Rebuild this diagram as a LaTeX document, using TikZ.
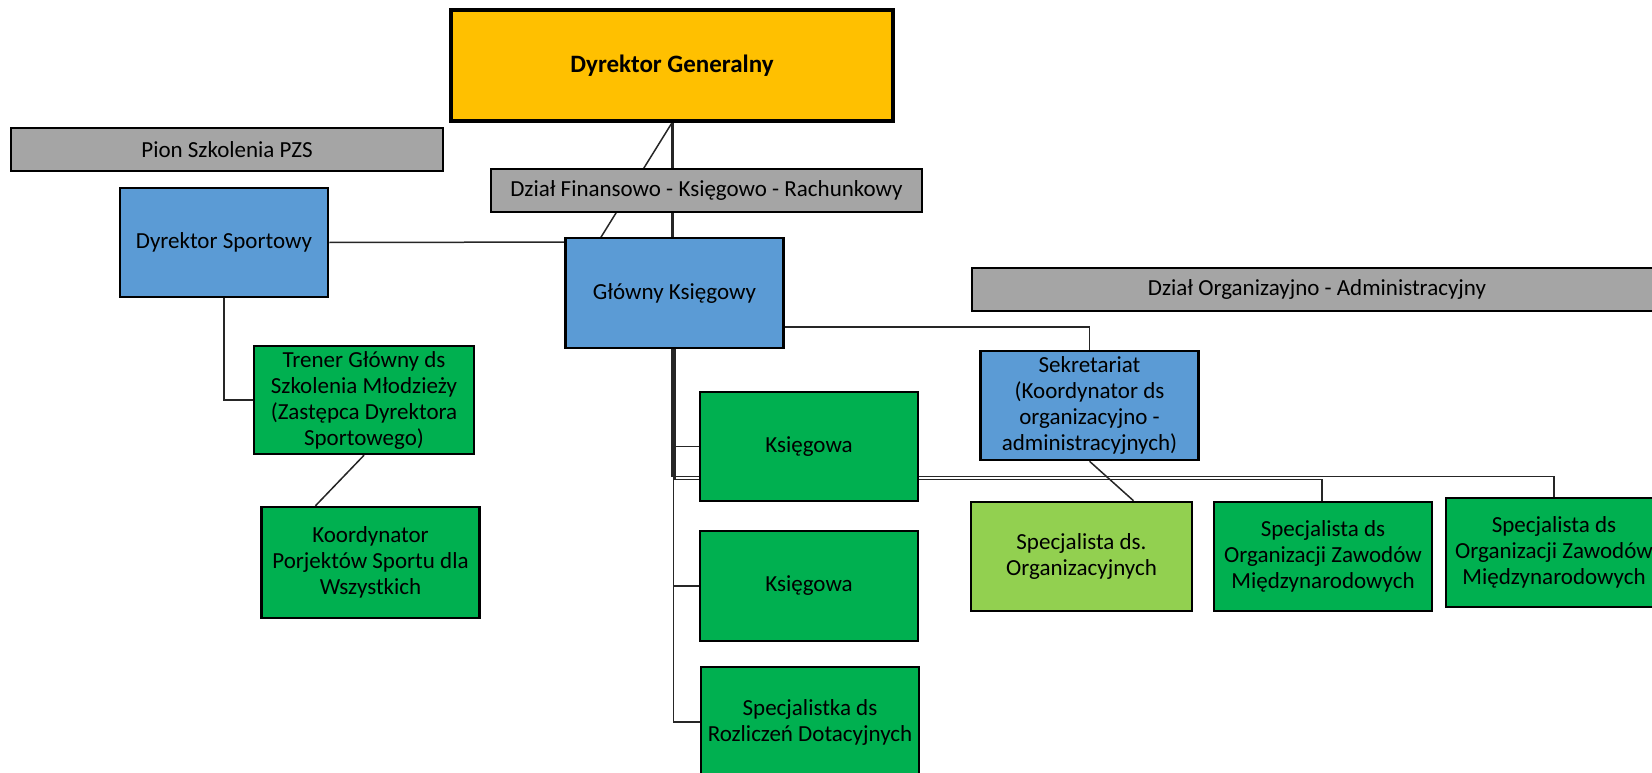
\documentclass[tikz,border=0pt]{standalone}
\usepackage{fontspec}
\setmainfont{Carlito}
\usetikzlibrary{backgrounds}
\definecolor{dgyellow}{HTML}{FFC000}
\definecolor{orgblue}{HTML}{5B9BD5}
\definecolor{orggreen}{HTML}{00B050}
\definecolor{orglime}{HTML}{92D050}
\definecolor{orggray}{HTML}{A5A5A5}
\begin{document}
\begin{tikzpicture}[x=1pt,y=-1pt,
  postbox/.style={draw=black,line width=2.5pt,align=center,inner sep=0pt,
    minimum width=218pt,minimum height=109pt,font=\fontsize{23}{26}\selectfont},
  bluebox/.style={postbox,fill=orgblue},
  greenbox/.style={postbox,fill=orggreen},
  barbox/.style={postbox,fill=orggray,line width=2pt,minimum height=43pt},
  link/.style={draw=black!85,line width=1.5pt}]
% page frame
\useasboundingbox (0,0) rectangle (1652,773);
\clip (0,0) rectangle (1652,773);
% the top
\node[postbox,fill=dgyellow,line width=3.5pt,minimum width=442pt,minimum height=111pt,
  font=\fontsize{25}{29}\selectfont\bfseries] (dg) at (672,65.5) {Dyrektor Generalny};
% the grey department bars
\node[barbox,minimum width=432pt] (pion) at (227,149.5) {Pion Szkolenia PZS};
\node[barbox,minimum width=431pt] (dzfin) at (706.5,190.5) {Dział Finansowo - Księgowo - Rachunkowy};
\node[barbox,minimum width=690pt] (dzorg) at (1317,289.5) {Dział Organizayjno - Administracyjny};
% left branch
\node[bluebox,minimum width=208pt] (dsport) at (224,242.5) {Dyrektor Sportowy};
\node[greenbox,minimum width=220pt,minimum height=108pt] (trener) at (364,400)
  {Trener Główny ds\\Szkolenia Młodzieży\\(Zastępca Dyrektora\\Sportowego)};
\node[greenbox,minimum height=111pt] (koord) at (370.5,562.5)
  {Koordynator\\Porjektów Sportu dla\\Wszystkich};
% finance branch
\node[bluebox,minimum height=110pt] (gk) at (674.5,293) {Główny Księgowy};
\node[greenbox] (ksieg1) at (809,446.5) {Księgowa};
\node[greenbox,minimum height=110pt] (ksieg2) at (809,586) {Księgowa};
\node[greenbox,minimum height=110pt] (spec) at (810,722) {Specjalistka ds\\Rozliczeń Dotacyjnych};
% organisation branch
\node[bluebox] (sekr) at (1089.5,405.5)
  {Sekretariat\\(Koordynator ds\\organizacyjno -\\administracyjnych)};
\node[postbox,fill=orglime,minimum width=221pt] (sporg) at (1081.5,556.5)
  {Specjalista ds.\\Organizacyjnych};
\node[greenbox] (zaw1) at (1323,556.5)
  {Specjalista ds\\Organizacji Zawodów\\Międzynarodowych};
\node[greenbox,minimum width=216pt] (zaw2) at (1554,552.5)
  {Specjalista ds\\Organizacji Zawodów\\Międzynarodowych};
% connectors behind the boxes
\begin{pgfonlayer}{background}
\draw[link,line width=3pt] (dg.south) -- (dg.south |- gk.north);
\draw[link] (dsport.east) -- (598,242) -- (dg.south);
\draw[link] (dsport.south) |- (trener.west);
\draw[link] (trener.south) -- ([xshift=-55pt]koord.north);
\draw[link] ([yshift=-34pt]gk.east) -| (sekr.north);
\draw[link] (sekr.south) -- ([xshift=52pt]sporg.north);
\draw[link] ([xshift=-1pt]gk.south) |- (ksieg1.west);
\draw[link] ([xshift=-1pt]gk.south) |- (ksieg2.west);
\draw[link] ([xshift=-1pt]gk.south) |- (spec.west);
\draw[link] ([xshift=-2.5pt]gk.south) -- ++(0,127) -| (zaw2.north);
\draw[link] ([xshift=0.5pt]gk.south) -- ++(0,130) -| ([xshift=-1pt]zaw1.north);
\end{pgfonlayer}
\end{tikzpicture}
\end{document}
